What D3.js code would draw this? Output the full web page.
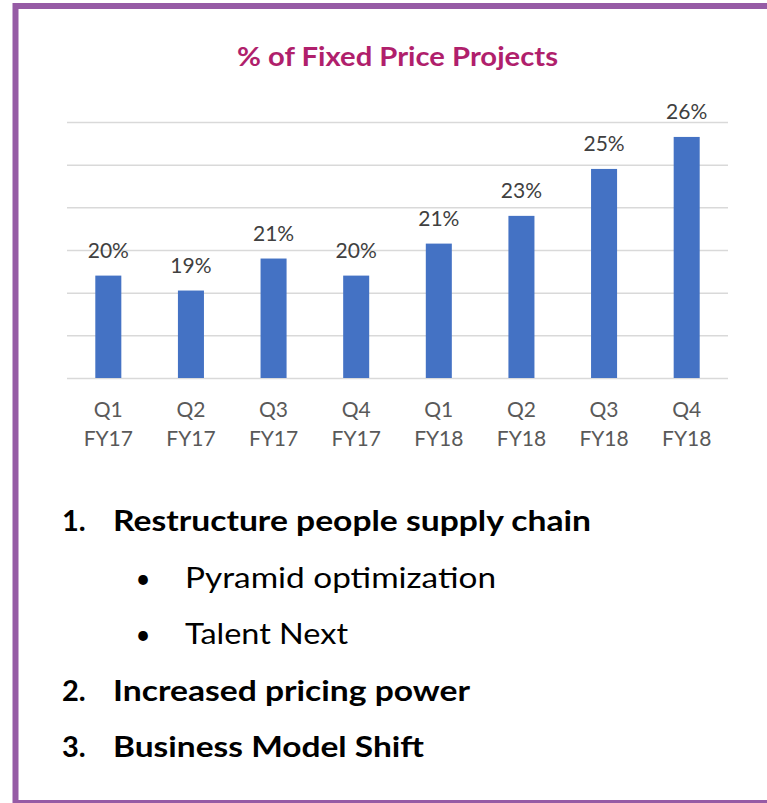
<!DOCTYPE html>
<html>
<head>
<meta charset="utf-8">
<script src="https://cdn.jsdelivr.net/npm/d3@7"></script>
<style>
  html, body { margin: 0; padding: 0; background: #fff; }
  svg { display: block; }
</style>
</head>
<body>
<svg id="chart" width="767" height="803"></svg>
<script>
// ---- data ----
const categories = ["Q1 FY17", "Q2 FY17", "Q3 FY17", "Q4 FY17", "Q1 FY18", "Q2 FY18", "Q3 FY18", "Q4 FY18"];
const fixedPriceShare = [0.198, 0.191, 0.206, 0.198, 0.213, 0.226, 0.248, 0.263];
const yTicks = [0.15, 0.17, 0.19, 0.21, 0.23, 0.25, 0.27];
const titleText = "% of Fixed Price Projects";
const listItems = [
  { marker: "1.", text: "Restructure people supply chain", bold: true },
  { marker: "•", text: "Pyramid optimization", bold: false },
  { marker: "•", text: "Talent Next", bold: false },
  { marker: "2.", text: "Increased pricing power", bold: true },
  { marker: "3.", text: "Business Model Shift", bold: true }
];

// ---- layout ----
const svg = d3.select("#chart");
const plot = { left: 67, right: 728, top: 122, bottom: 378 };
const FONT = "Lato, 'Open Sans', sans-serif";

function fit(sel, width) {
  const len = sel.node().getComputedTextLength();
  if (len > 0 && Math.abs(len - width) > 1) {
    sel.attr("textLength", width).attr("lengthAdjust", "spacingAndGlyphs");
  }
  return sel;
}

// frame
svg.append("rect")
  .attr("x", 15.5).attr("y", 6)
  .attr("width", 770).attr("height", 797)
  .attr("fill", "none")
  .attr("stroke", "#965ba5")
  .attr("stroke-width", 6);

// title
fit(svg.append("text")
  .attr("x", 237).attr("y", 66)
  .attr("font-family", FONT).attr("font-weight", 700)
  .attr("font-size", 26).attr("fill", "#b01f6c")
  .text(titleText), 321);

// scales
const x = d3.scaleBand()
  .domain(categories)
  .range([plot.left, plot.right])
  .paddingInner(0.685)
  .paddingOuter(0.3425);

const y = d3.scaleLinear()
  .domain([yTicks[0], yTicks[yTicks.length - 1]])
  .range([plot.bottom, plot.top]);

// gridlines
const grid = svg.append("g")
  .attr("transform", `translate(${plot.left},0)`)
  .call(d3.axisLeft(y).tickValues(yTicks).tickSize(-(plot.right - plot.left)).tickFormat(""));
grid.select(".domain").remove();
grid.selectAll(".tick line").attr("stroke", "#d9d9d9").attr("stroke-width", 1.5);

// bars
svg.append("g").selectAll("rect")
  .data(fixedPriceShare)
  .join("rect")
  .attr("x", (d, i) => x(categories[i]))
  .attr("width", x.bandwidth())
  .attr("y", d => y(d))
  .attr("height", d => y(yTicks[0]) - y(d))
  .attr("fill", "#4472c4");

// value labels
const fmt = d3.format(".0%");
svg.append("g").selectAll("text")
  .data(fixedPriceShare)
  .join("text")
  .attr("x", (d, i) => x(categories[i]) + x.bandwidth() / 2)
  .attr("y", d => y(d) - 17.5)
  .attr("text-anchor", "middle")
  .attr("font-family", FONT)
  .attr("font-size", 21)
  .attr("fill", "#404040")
  .text(d => fmt(d));

// x axis labels (two lines)
const xAxis = svg.append("g")
  .attr("transform", `translate(0,${plot.bottom})`)
  .call(d3.axisBottom(x).tickSize(0).tickFormat(""));
xAxis.select(".domain").remove();
xAxis.selectAll(".tick").each(function(d) {
  const parts = d.split(" ");
  const t = d3.select(this).append("text")
    .attr("text-anchor", "middle")
    .attr("font-family", FONT)
    .attr("font-size", 21)
    .attr("fill", "#595959");
  t.append("tspan").attr("x", 0).attr("y", 39).text(parts[0]);
  t.append("tspan").attr("x", 0).attr("y", 68).text(parts[1]);
});

// list
const listBaselines = [531, 588, 644, 701, 757];
const textWidths = [478, 311, 163, 357, 311];
listItems.forEach((item, i) => {
  const isBullet = item.marker === "•";
  const g = svg.append("g");
  g.append("text")
    .attr("x", isBullet ? 143 : 62)
    .attr("y", listBaselines[i])
    .attr("text-anchor", isBullet ? "middle" : "start")
    .attr("font-family", FONT)
    .attr("font-weight", item.bold ? 700 : 400)
    .attr("font-size", isBullet ? 26 : 29)
    .attr("fill", "#000")
    .text(item.marker);
  fit(g.append("text")
    .attr("x", isBullet ? 185 : 113)
    .attr("y", listBaselines[i])
    .attr("font-family", FONT)
    .attr("font-weight", item.bold ? 700 : 400)
    .attr("font-size", 29)
    .attr("fill", "#000")
    .text(item.text), textWidths[i]);
});
</script>
</body>
</html>
